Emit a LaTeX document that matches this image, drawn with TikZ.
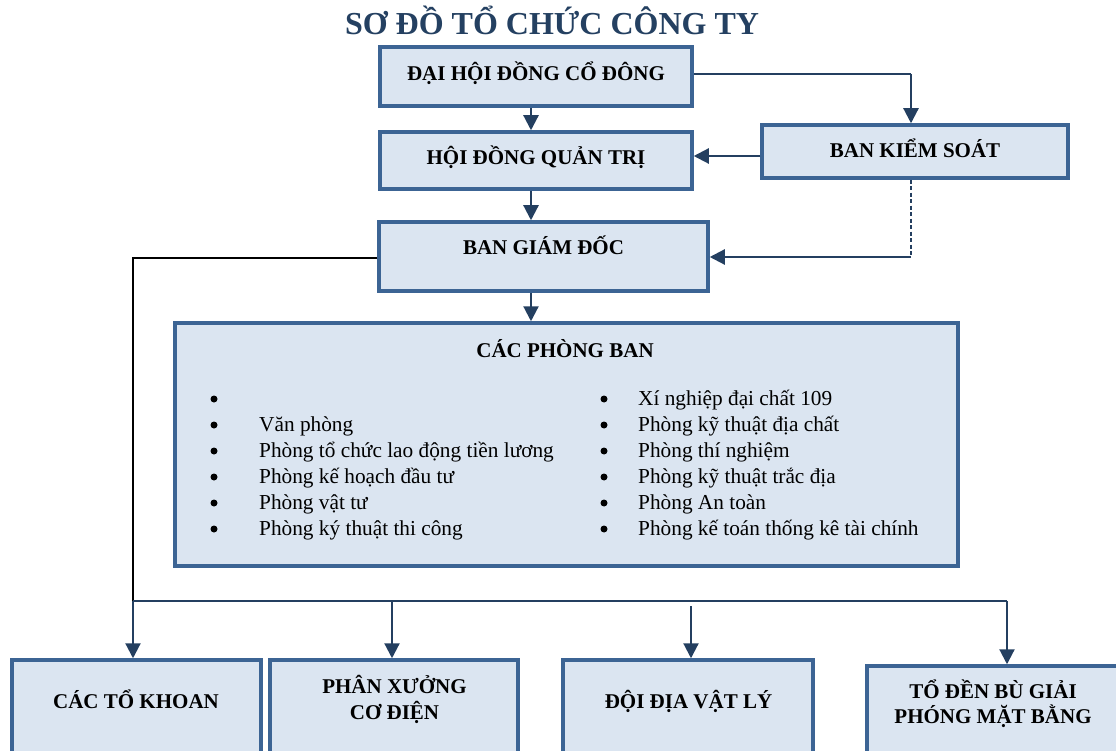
\documentclass[tikz,border=0pt]{standalone}
\usepackage{fontspec}
\setmainfont{Liberation Serif}
\usetikzlibrary{arrows.meta}
\definecolor{boxblue}{HTML}{3C6494}
\definecolor{boxfill}{HTML}{DBE5F1}
\definecolor{navy}{HTML}{243F60}
\definecolor{titleblue}{HTML}{244061}
\begin{document}
\begin{tikzpicture}[x=1pt,y=-1pt,
  box/.style={draw=boxblue, line width=3.5pt, fill=boxfill, rectangle, inner sep=0pt},
  boxtext/.style={font=\fontsize{21}{25}\selectfont\bfseries, anchor=base, inner sep=0pt, align=center},
  item/.style={font=\fontsize{21.3}{25}\selectfont, anchor=base west, inner sep=0pt},
  dot/.style={circle, fill=black, inner sep=0pt, minimum size=7pt},
  arr/.style={draw=navy, line width=2.2pt, -{Triangle[width=15pt,length=15pt]}},
  link/.style={draw=navy, line width=2.2pt},
  blk/.style={draw=black, line width=1.6pt}
]
\useasboundingbox (0,0) rectangle (1116,751);
\fill[white] (0,0) rectangle (1116,751);

% title
\node[font=\fontsize{32}{37}\selectfont\bfseries, text=titleblue, anchor=base, inner sep=0pt] (title) at (552,35) {SƠ ĐỒ TỔ CHỨC CÔNG TY};

% boxes
\node[box, minimum width=312pt, minimum height=59pt] (dh) at (536,76.5) {};
\node[box, minimum width=312pt, minimum height=57pt] (hd) at (536,160.5) {};
\node[box, minimum width=306pt, minimum height=53pt] (bks) at (915,151.5) {};
\node[box, minimum width=329pt, minimum height=69pt] (bgd) at (543.5,256.5) {};
\node[box, minimum width=783pt, minimum height=243pt] (pb) at (566.5,444.5) {};
\node[box, minimum width=249pt, minimum height=100pt] (ctk) at (136.5,710) {};
\node[box, minimum width=248pt, minimum height=100pt] (px) at (394,710) {};
\node[box, minimum width=250pt, minimum height=100pt] (dd) at (688,710) {};
\node[box, minimum width=263pt, minimum height=94pt] (tdb) at (998.5,713) {};

% box texts
\node[boxtext] (tdh) at (536,81) {ĐẠI HỘI ĐỒNG CỔ ĐÔNG};
\node[boxtext] (thd) at (536,165) {HỘI ĐỒNG QUẢN TRỊ};
\node[boxtext] (tbks) at (915,158) {BAN KIỂM SOÁT};
\node[boxtext] (tbgd) at (543.5,255) {BAN GIÁM ĐỐC};
\node[boxtext] (tpb) at (565,357) {CÁC PHÒNG BAN};
\node[boxtext] (tctk) at (136,708) {CÁC TỔ KHOAN};
\node[boxtext] (tpx1) at (394.5,693) {PHÂN XƯỞNG};
\node[boxtext] (tpx2) at (394.5,719) {CƠ ĐIỆN};
\node[boxtext] (tdd) at (688.5,708) {ĐỘI ĐỊA VẬT LÝ};
\node[boxtext] (ttdb1) at (993,698) {TỔ ĐỀN BÙ GIẢI};
\node[boxtext] (ttdb2) at (993,723) {PHÓNG MẶT BẰNG};

% left list
\node[dot] (bl1) at (214,399) {};
\node[dot] (bl2) at (214,425) {};
\node[dot] (bl3) at (214,451) {};
\node[dot] (bl4) at (214,477) {};
\node[dot] (bl5) at (214,503) {};
\node[dot] (bl6) at (214,529) {};
\node[item] (il2) at (259,431) {Văn phòng};
\node[item] (il3) at (259,457) {Phòng tổ chức lao động tiền lương};
\node[item] (il4) at (259,483) {Phòng kế hoạch đầu tư};
\node[item] (il5) at (259,509) {Phòng vật tư};
\node[item] (il6) at (259,535) {Phòng ký thuật thi công};
% right list
\node[dot] (br1) at (604,399) {};
\node[dot] (br2) at (604,425) {};
\node[dot] (br3) at (604,451) {};
\node[dot] (br4) at (604,477) {};
\node[dot] (br5) at (604,503) {};
\node[dot] (br6) at (604,529) {};
\node[item] (ir1) at (638,405) {Xí nghiệp đại chất 109};
\node[item] (ir2) at (638,431) {Phòng kỹ thuật địa chất};
\node[item] (ir3) at (638,457) {Phòng thí nghiệm};
\node[item] (ir4) at (638,483) {Phòng kỹ thuật trắc địa};
\node[item] (ir5) at (638,509) {Phòng An toàn};
\node[item] (ir6) at (638,535) {Phòng kế toán thống kê tài chính};

% helper coordinates
\coordinate (ax) at (531,0);
\coordinate (kx) at (911,74);
\coordinate (kd) at (911,257);
\coordinate (lt) at (133,258);
\coordinate (lb) at (133,601);
\coordinate (b2) at (392,601);
\coordinate (b3) at (691,606);
\coordinate (b4) at (1007,601);

% connectors
\draw[arr] (dh.south -| ax) -- (hd.north -| ax);
\draw[arr] (hd.south -| ax) -- (bgd.north -| ax);
\draw[arr] (bgd.south -| ax) -- (pb.north -| ax);
\draw[link] (dh.east |- kx) -- (kx);
\draw[arr] (kx) -- (bks.north -| kx);
\draw[arr] (bks.west |- 0,156) -- (hd.east |- 0,156);
\draw[navy, line width=1.6pt, dash pattern=on 4pt off 2.5pt] (bks.south -| kd) -- (kd);
\draw[arr] (kd) -- (bgd.east |- kd);
\draw[blk] (bgd.west |- lt) -- (lt) -- (lb);
\draw[link] (lb) -- (b4 |- lb);
\draw[arr] (lb) -- (ctk.north -| lb);
\draw[arr] (b2) -- (px.north -| b2);
\draw[arr] (b3) -- (dd.north -| b3);
\draw[arr] (b4) -- (tdb.north -| b4);
\end{tikzpicture}
\end{document}
